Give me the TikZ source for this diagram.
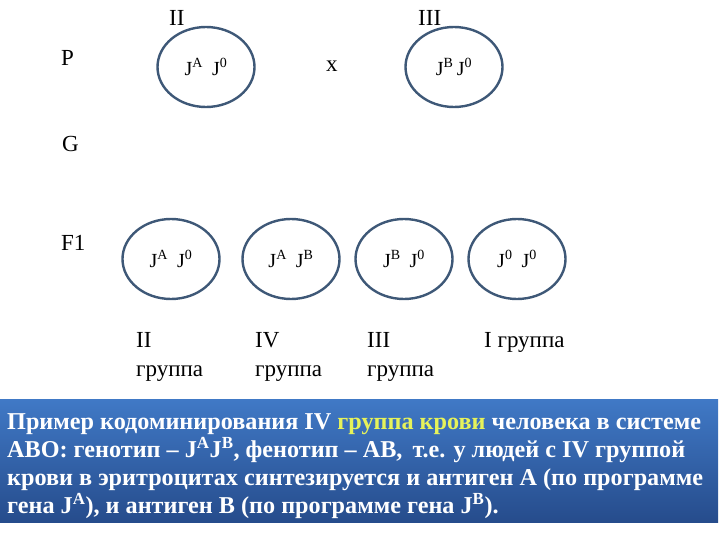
\documentclass[tikz,border=0pt]{standalone}
\usepackage{fontspec}
\setmainfont{Liberation Serif}
\usetikzlibrary{shapes.geometric}
\definecolor{ringblue}{HTML}{3E5877}
\definecolor{boxtop}{HTML}{4079C6}
\definecolor{boxbot}{HTML}{264C8C}
\definecolor{hilite}{HTML}{E6F25A}
\newcommand{\gen}[1]{J\textsuperscript{#1}}
\begin{document}
\begin{tikzpicture}[x=1pt,y=-1pt]
\tikzstyle{every node}+=[inner sep=0pt]
\tikzstyle{zygote}=[draw=ringblue,line width=2.4pt,ellipse,minimum width=97pt,minimum height=80pt,font=\fontsize{20}{22}\selectfont]
\tikzstyle{lbl}=[anchor=base west,font=\fontsize{23}{29}\selectfont]
\useasboundingbox (0,0) rectangle (720,540);
% generations
\node [lbl] (p) at (61,66) {P};
\node [lbl] (g) at (62,152) {G};
\node [lbl] (f) at (61,250) {F1};
% parents
\node [lbl] (pa) at (169,26) {II};
\node [lbl] (pb) at (418,26) {III};
\node [zygote] (ma) at (206,67) {\gen{A}\hspace{0.45em}\gen{0}};
\node [zygote] (mb) at (454,67) {\gen{B}\,\gen{0}};
\node [lbl] (cross) at (326,72) {x};
% offspring
\node [zygote] (fa) at (171,259) {\gen{A}\hspace{0.45em}\gen{0}};
\node [zygote] (fb) at (291,259) {\gen{A}\hspace{0.45em}\gen{B}};
\node [zygote] (fc) at (404,259) {\gen{B}\hspace{0.45em}\gen{0}};
\node [zygote] (fd) at (517,259) {\gen{0}\hspace{0.45em}\gen{0}};
\node [lbl,align=left] (ga) at (136,376) {II\\группа};
\node [lbl,align=left] (gb) at (255,376) {IV\\группа};
\node [lbl,align=left] (gc) at (367,376) {III\\группа};
\node [lbl] (gd) at (484,347) {I группа};
% note
\shade [top color=boxtop,bottom color=boxbot] (0,399) rectangle (718,522);
\node [anchor=north west,align=left,text=white,font=\bfseries\fontsize{24.2}{28}\selectfont] (note) at (7,413)
{Пример кодоминирования IV \textcolor{hilite}{группа крови} человека в системе\\
АВО: генотип -- \gen{A}\gen{B}, фенотип -- АВ,\, т.е. у людей с IV группой\\
крови в эритроцитах синтезируется и антиген А (по программе\\
гена \gen{A}), и антиген В (по программе гена \gen{B}).};
\end{tikzpicture}
\end{document}
